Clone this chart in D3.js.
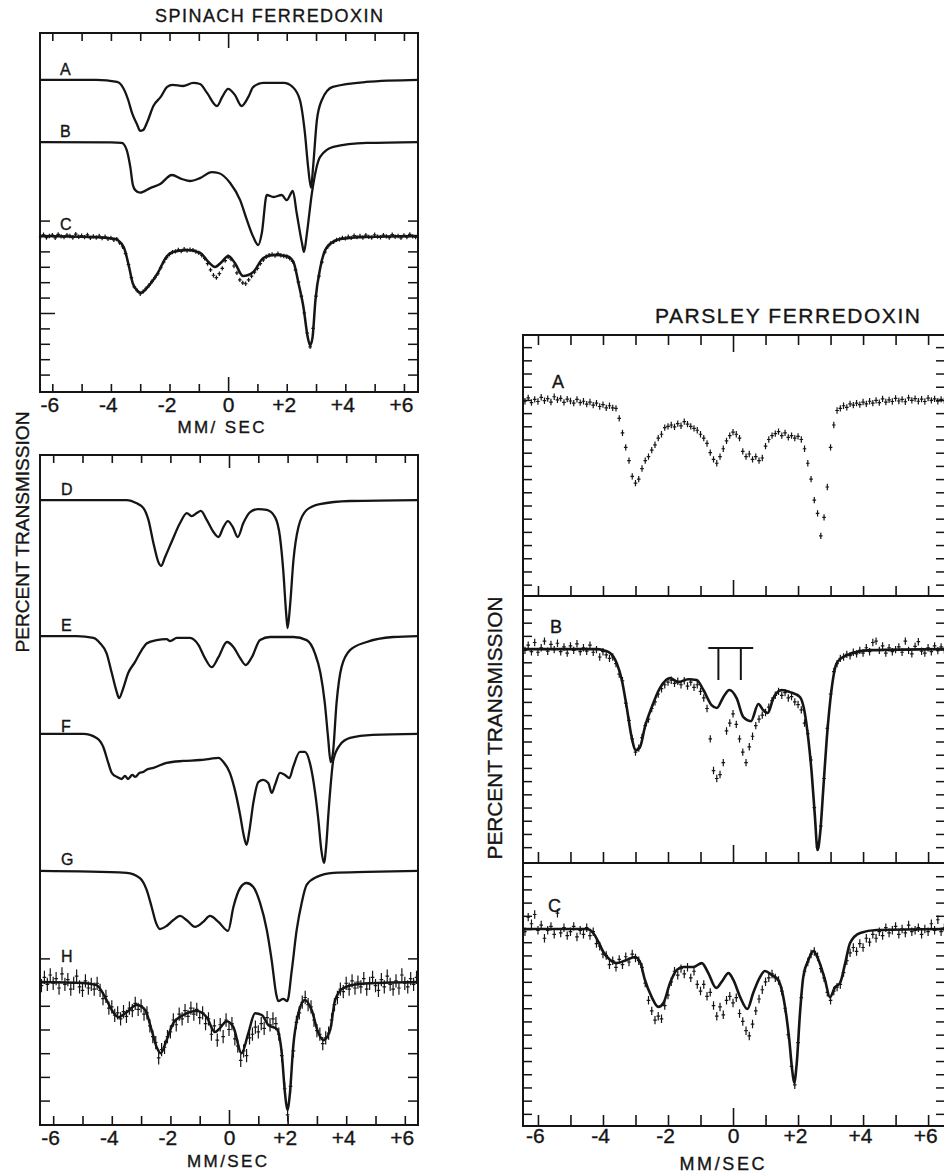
<!DOCTYPE html>
<html>
<head>
<meta charset="utf-8">
<script src="https://cdn.jsdelivr.net/npm/d3@7"></script>
<style>
  body { margin: 0; background: #fff; }
  svg text { font-family: "Liberation Sans", Arial, sans-serif; fill: #151515; stroke: #151515; stroke-width: 0.35; }
</style>
</head>
<body>
<svg id="fig"></svg>
<script>
// Mossbauer spectra of spinach and parsley ferredoxin.
// Values are absorption below the baseline, in percent (transmission = 100 - value).

// velocity channels (mm/sec) shared by all measured spectra
const velocity = [
  -6.4,-6.3,-6.2,-6.1,-6.0,-5.9,-5.8,-5.7,-5.6,-5.5,
  -5.4,-5.3,-5.2,-5.1,-5.0,-4.9,-4.8,-4.7,-4.6,-4.5,
  -4.4,-4.3,-4.2,-4.1,-4.0,-3.9,-3.8,-3.7,-3.6,-3.5,
  -3.4,-3.3,-3.2,-3.1,-3.0,-2.9,-2.8,-2.7,-2.6,-2.5,
  -2.4,-2.3,-2.2,-2.1,-2.0,-1.9,-1.8,-1.7,-1.6,-1.5,
  -1.4,-1.3,-1.2,-1.1,-1.0,-0.9,-0.8,-0.7,-0.6,-0.5,
  -0.4,-0.3,-0.2,-0.1,0.0,0.1,0.2,0.3,0.4,0.5,
  0.6,0.7,0.8,0.9,1.0,1.1,1.2,1.3,1.4,1.5,
  1.6,1.7,1.8,1.9,2.0,2.1,2.2,2.3,2.4,2.5,
  2.6,2.7,2.8,2.9,3.0,3.1,3.2,3.3,3.4,3.5,
  3.6,3.7,3.8,3.9,4.0,4.1,4.2,4.3,4.4,4.5,
  4.6,4.7,4.8,4.9,5.0,5.1,5.2,5.3,5.4,5.5,
  5.6,5.7,5.8,5.9,6.0,6.1,6.2,6.3,6.4,6.5
];

const velocityTicks = [-6,-5,-4,-3,-2,-1,0,1,2,3,4,5,6];
const velocityLabels = [-6,-4,-2,0,2,4,6];

// ---- spinach ferredoxin: computed spectra A, B and fit of C ----
const spinachA = [[-6.42,0],[-4.5,0],[-3.79,0.13],[-3.58,0.52],[-3.41,1.30],[-3.28,2.14],[-3.1,2.92],[-3.0,3.31],[-2.9,3.25],[-2.76,2.73],[-2.55,1.69],[-2.3,1.1],[-2.08,0.45],[-1.9,0.32],[-1.54,0.39],[-1.19,0.19],[-0.96,0.26],[-0.72,0.84],[-0.38,1.69],[-0.2,1.1],[0,0.58],[0.23,0.97],[0.46,1.69],[0.69,1.1],[0.86,0.45],[1.2,0.19],[1.9,0.19],[2.2,0.45],[2.45,1.30],[2.62,3.44],[2.73,5.65],[2.83,7.0],[2.9,5.65],[3.03,2.6],[3.2,1.3],[3.57,0.45],[4.7,0.13],[6.48,0]];
const spinachB = [[-6.42,0],[-4.0,0.02],[-3.63,0.05],[-3.46,0.52],[-3.34,1.6],[-3.25,2.79],[-3.17,3.12],[-3.0,3.29],[-2.66,2.99],[-2.32,2.73],[-1.92,2.14],[-1.58,2.4],[-1.3,2.53],[-0.96,2.34],[-0.56,1.95],[-0.33,2.01],[0.07,2.66],[0.41,3.77],[0.64,5.06],[0.86,6.17],[1.03,6.69],[1.15,5.91],[1.32,3.44],[1.55,3.57],[1.83,3.44],[2.0,3.77],[2.21,3.18],[2.34,4.61],[2.52,6.56],[2.59,7.14],[2.69,5.91],[2.86,3.31],[3.14,0.97],[3.59,0.32],[4.73,0.06],[6.48,0]];
const spinachCFit = [[-6.42,0],[-4.7,0.06],[-3.83,0.2],[-3.77,0.26],[-3.55,0.78],[-3.38,2.01],[-3.26,3.05],[-3.1,3.55],[-2.97,3.7],[-2.74,3.31],[-2.4,2.4],[-2.11,1.36],[-1.88,1.04],[-1.37,0.91],[-0.95,1.1],[-0.67,1.69],[-0.45,2.01],[-0.22,1.69],[0,1.3],[0.23,1.75],[0.51,2.6],[0.86,2.34],[1.2,1.43],[1.55,1.23],[2.0,1.3],[2.23,1.69],[2.4,3.05],[2.57,4.61],[2.72,6.6],[2.8,7.1],[2.88,6.6],[2.98,4.16],[3.15,2.01],[3.38,0.71],[3.83,0.2],[4.7,0.06],[6.48,0]];
const spinachC = [
  0.05,-0.08,0.10,0.00,-0.05,0.12,-0.10,0.03,0.08,-0.06,
  0.00,0.10,-0.12,0.05,-0.02,0.08,-0.07,0.12,0.02,0.10,
  0.00,0.14,0.05,0.18,0.12,0.25,0.20,0.45,0.70,1.15,
  1.85,2.70,3.30,3.55,3.75,3.60,3.40,3.20,2.95,2.70,
  2.45,2.05,1.70,1.40,1.20,1.05,1.00,0.90,0.98,0.85,
  0.95,0.88,0.92,1.02,1.10,1.25,1.45,1.80,2.20,2.55,
  2.70,2.45,2.10,1.60,1.35,1.50,1.95,2.40,2.85,3.05,
  3.10,2.85,2.60,2.35,2.10,1.80,1.55,1.35,1.25,1.20,
  1.28,1.15,1.25,1.30,1.35,1.45,1.65,2.20,3.00,3.90,
  5.00,6.30,7.20,6.00,3.90,2.60,1.70,1.05,0.70,0.48,
  0.38,0.25,0.22,0.12,0.15,0.05,0.12,-0.02,0.08,0.00,
  0.10,-0.05,0.06,0.11,-0.08,0.04,0.09,-0.06,0.02,0.10,
  -0.09,0.05,0.00,0.12,-0.04,0.07,-0.10,0.03,0.08,-0.02
];

// ---- spinach ferredoxin: components D-G and fit/data H ----
const spinachD = [[-6.45,0],[-3.49,0],[-3.15,0.14],[-2.92,0.34],[-2.75,0.84],[-2.58,1.81],[-2.41,2.62],[-2.32,2.78],[-2.18,2.4],[-1.96,1.77],[-1.67,0.97],[-1.44,0.55],[-1.27,0.68],[-1.1,0.55],[-0.96,0.46],[-0.76,0.84],[-0.53,1.35],[-0.36,1.56],[-0.19,1.14],[-0.04,0.89],[0.13,1.14],[0.3,1.56],[0.49,0.97],[0.72,0.51],[1.0,0.38],[1.29,0.42],[1.57,0.72],[1.74,1.56],[1.85,2.95],[1.95,4.77],[2.0,5.4],[2.08,4.51],[2.2,2.53],[2.37,1.14],[2.65,0.42],[3.1,0.17],[4.13,0.04],[6.45,0]];
const spinachE = [[-6.45,0],[-5.2,0],[-4.63,0.08],[-4.4,0.3],[-4.18,0.72],[-4.0,1.56],[-3.85,2.28],[-3.75,2.62],[-3.63,2.28],[-3.44,1.56],[-3.21,1.1],[-2.98,0.59],[-2.8,0.3],[-2.47,0.17],[-2.13,0.13],[-2.01,0.21],[-1.78,0.08],[-1.33,0.08],[-1.04,0.38],[-0.82,0.93],[-0.59,1.31],[-0.36,0.89],[-0.07,0.25],[0.15,0.46],[0.38,0.93],[0.57,1.22],[0.78,0.89],[1.06,0.17],[1.4,0.04],[2.2,0.04],[2.65,0.17],[2.93,0.72],[3.12,1.56],[3.27,2.83],[3.38,4.26],[3.47,5.32],[3.55,4.9],[3.67,2.83],[3.84,1.31],[4.13,0.59],[4.7,0.25],[5.6,0.04],[6.45,0]];
const spinachF = [[-6.45,0],[-4.97,0],[-4.52,0.17],[-4.29,0.55],[-4.12,1.22],[-4.0,1.64],[-3.83,1.81],[-3.66,1.9],[-3.55,1.77],[-3.45,1.9],[-3.3,1.73],[-3.2,1.81],[-3.05,1.64],[-2.92,1.6],[-2.8,1.5],[-2.58,1.43],[-2.13,1.22],[-1.56,1.14],[-0.99,1.1],[-0.65,1.05],[-0.36,1.01],[-0.19,1.18],[0.03,1.64],[0.2,2.36],[0.38,3.42],[0.5,4.26],[0.6,4.68],[0.7,4.05],[0.83,2.91],[1.0,2.03],[1.17,1.94],[1.34,2.07],[1.46,2.49],[1.57,2.15],[1.74,1.64],[1.91,1.73],[2.06,1.86],[2.19,1.39],[2.42,0.76],[2.59,0.76],[2.76,1.22],[2.94,2.49],[3.05,3.63],[3.15,4.89],[3.24,5.44],[3.32,4.68],[3.39,3.42],[3.47,2.15],[3.56,1.1],[3.79,0.46],[4.13,0.17],[4.9,0.04],[6.45,0]];
const spinachG = [[-6.45,0],[-3.49,0.08],[-3.04,0.3],[-2.81,0.8],[-2.64,1.52],[-2.49,2.19],[-2.36,2.45],[-2.13,2.32],[-1.9,2.07],[-1.67,1.9],[-1.45,2.07],[-1.16,2.36],[-0.88,2.15],[-0.65,1.9],[-0.36,2.15],[-0.03,2.53],[0.15,1.52],[0.38,0.72],[0.6,0.51],[0.83,0.68],[1.06,1.35],[1.29,2.49],[1.46,3.8],[1.61,5.19],[1.68,5.49],[1.85,5.4],[1.99,5.49],[2.14,4.22],[2.31,2.49],[2.48,1.35],[2.65,0.59],[3.0,0.25],[3.56,0.08],[4.7,0.04],[6.45,0]];
const spinachHFit = [[-6.45,0],[-4.97,0.04],[-4.52,0.13],[-4.23,0.63],[-4.0,1.18],[-3.77,1.48],[-3.49,1.27],[-3.15,0.97],[-2.86,1.18],[-2.64,2.03],[-2.47,2.74],[-2.33,3.0],[-2.13,2.45],[-1.9,1.73],[-1.56,1.39],[-1.1,1.22],[-0.76,1.48],[-0.48,2.11],[-0.31,1.94],[-0.08,1.65],[0.15,1.9],[0.43,3.0],[0.66,2.15],[0.89,1.31],[1.12,1.39],[1.34,1.81],[1.63,1.98],[1.8,3.0],[1.91,4.68],[1.99,5.4],[2.08,4.68],[2.19,2.74],[2.37,1.31],[2.59,0.76],[2.82,1.18],[3.05,2.15],[3.22,2.45],[3.45,2.03],[3.62,0.76],[3.9,0.25],[4.47,0.08],[6.45,0]];
const spinachH = [
  0.15,-0.20,0.10,-0.30,0.05,-0.15,0.25,-0.35,0.10,-0.10,
  0.30,0.05,-0.25,0.20,0.35,-0.05,0.25,0.10,0.30,0.05,
  0.35,0.70,0.60,1.10,1.05,1.40,1.30,1.55,1.25,1.45,
  1.10,1.20,0.90,1.15,1.00,1.35,1.30,1.85,2.30,2.55,
  3.20,2.85,2.75,2.30,2.10,1.60,1.80,1.35,1.55,1.20,
  1.45,1.10,1.35,1.15,1.50,1.30,1.75,1.55,2.20,1.85,
  2.45,1.80,2.30,1.60,2.00,1.75,2.40,2.70,3.30,2.90,
  3.10,2.35,2.20,1.90,2.10,1.75,1.95,1.50,1.80,1.55,
  1.75,2.20,3.10,4.50,5.60,4.40,2.90,1.70,1.30,0.85,
  0.65,0.95,1.05,1.60,2.05,2.20,2.60,2.35,2.15,1.60,
  0.95,0.65,0.30,0.40,0.05,0.30,-0.05,0.25,0.00,0.20,
  -0.15,0.30,0.05,-0.20,0.15,0.35,-0.10,0.20,-0.25,0.10,
  0.30,-0.05,0.25,-0.30,0.05,0.20,-0.15,0.10,-0.20,0.05
];

// ---- parsley ferredoxin: data A, B, C with fits for B and C ----
const parsleyA = [
  0.05,-0.08,0.10,-0.02,0.06,-0.10,0.03,-0.05,0.08,-0.12,
  0.00,-0.06,0.09,-0.03,0.04,0.12,-0.02,0.10,0.05,0.16,
  0.08,0.20,0.12,0.25,0.18,0.30,0.22,0.30,0.32,0.70,
  1.25,1.80,2.30,2.90,3.15,3.00,2.60,2.30,2.15,1.90,
  1.70,1.45,1.30,1.05,1.00,0.95,1.02,0.90,0.98,0.82,
  0.92,1.00,1.08,1.15,1.30,1.45,1.65,2.00,2.25,2.40,
  2.15,1.85,1.55,1.35,1.22,1.30,1.45,1.95,2.15,2.05,
  2.25,2.15,2.30,2.20,1.75,1.50,1.35,1.28,1.20,1.35,
  1.25,1.42,1.35,1.45,1.38,1.50,1.85,2.40,3.00,3.80,
  4.30,5.15,4.45,3.30,1.80,0.95,0.40,0.32,0.22,0.28,
  0.15,0.20,0.12,0.18,0.08,0.15,0.05,0.12,0.02,0.10,
  -0.04,0.08,0.00,0.06,-0.06,0.04,-0.02,0.07,-0.08,0.02,
  -0.05,0.05,-0.03,0.06,-0.07,0.02,-0.04,0.05,-0.02,0.03
];
const parsleyBFit = [[-6.46,0],[-4.19,0],[-3.99,0.04],[-3.78,0.15],[-3.58,0.53],[-3.42,1.17],[-3.27,2.2],[-3.12,3.33],[-2.99,3.83],[-2.86,3.71],[-2.71,2.95],[-2.5,2.2],[-2.25,1.48],[-1.94,1.1],[-1.68,1.25],[-1.38,1.14],[-1.12,1.17],[-0.91,1.55],[-0.66,2.12],[-0.5,2.23],[-0.3,1.82],[-0.11,1.55],[0.11,1.86],[0.32,2.58],[0.55,2.73],[0.78,2.08],[0.93,2.31],[1.07,2.42],[1.24,1.86],[1.5,1.55],[1.75,1.63],[2.06,1.82],[2.19,2.31],[2.32,3.45],[2.42,4.7],[2.52,6.36],[2.6,7.61],[2.68,6.97],[2.78,5.23],[2.88,3.45],[3.04,1.44],[3.19,0.53],[3.5,0.23],[4.22,0.04],[6.52,0]];
const parsleyB = [
  0.05,-0.15,0.10,-0.25,0.12,-0.05,-0.30,0.08,-0.18,0.02,
  -0.22,0.10,-0.08,0.15,-0.12,0.05,-0.20,0.10,-0.05,0.08,
  -0.15,0.12,0.02,0.30,0.10,0.22,0.35,0.30,0.55,0.95,
  1.20,2.05,2.70,3.40,3.90,3.75,3.35,2.90,2.65,2.25,
  2.00,1.70,1.50,1.35,1.25,1.18,1.30,1.22,1.35,1.20,
  1.40,1.25,1.45,1.35,1.60,1.85,2.25,3.40,4.60,4.90,
  4.75,4.30,3.10,2.80,2.45,2.85,3.40,3.90,4.30,3.70,
  3.30,2.90,2.65,2.50,2.40,2.20,1.95,1.75,1.60,1.75,
  1.65,1.85,1.80,2.00,2.10,2.30,2.80,3.20,4.20,6.00,
  7.50,6.70,4.90,3.00,1.70,0.85,0.55,0.35,0.30,0.20,
  0.25,0.12,0.18,0.05,0.15,-0.05,0.10,-0.25,-0.30,0.05,
  -0.12,0.15,-0.05,0.10,0.02,-0.08,0.12,-0.30,0.05,0.18,
  -0.10,-0.28,0.08,0.15,-0.05,0.10,-0.12,0.06,-0.08,0.04
];
const parsleyCFit = [[-6.46,0],[-4.5,0],[-4.3,0.15],[-4.14,0.49],[-3.99,0.87],[-3.78,1.17],[-3.58,1.29],[-3.27,1.17],[-3.02,1.06],[-2.86,1.25],[-2.71,1.93],[-2.5,2.58],[-2.3,2.95],[-2.14,2.8],[-1.94,2.05],[-1.73,1.55],[-1.53,1.44],[-1.22,1.44],[-0.96,1.29],[-0.76,1.67],[-0.52,2.23],[-0.35,2.0],[-0.14,1.67],[0.01,1.93],[0.22,2.58],[0.44,3.03],[0.62,2.42],[0.83,1.82],[0.98,1.59],[1.19,1.74],[1.39,1.93],[1.6,2.95],[1.73,4.2],[1.81,5.23],[1.88,5.83],[1.96,5.08],[2.06,3.18],[2.16,1.82],[2.32,1.17],[2.47,0.83],[2.63,1.17],[2.83,1.93],[2.98,2.58],[3.14,2.2],[3.29,2.05],[3.45,1.29],[3.6,0.53],[3.91,0.15],[4.42,0.04],[6.52,0]];
const parsleyC = [
  0.10,-0.45,-0.20,-0.55,0.05,-0.15,0.35,0.05,-0.10,0.20,
  -0.60,0.15,-0.05,0.25,0.10,-0.10,0.30,0.05,0.20,-0.05,
  0.25,0.10,0.55,0.65,0.95,1.00,1.35,1.20,1.45,1.15,
  1.35,1.05,1.25,0.95,1.10,1.20,1.45,2.05,2.70,3.10,
  3.45,3.30,3.40,2.90,2.50,2.00,1.60,1.75,1.50,1.70,
  1.45,1.85,1.60,2.10,2.35,2.10,2.55,2.40,2.90,3.30,
  2.95,3.25,2.70,2.55,2.80,2.60,3.20,3.50,3.85,4.05,
  3.60,3.10,2.65,2.30,2.00,1.85,1.70,1.85,1.95,2.35,
  3.00,4.00,5.20,5.90,4.30,2.60,1.60,1.25,0.95,0.85,
  1.05,1.50,1.85,2.40,2.70,2.35,2.20,2.10,1.65,1.20,
  0.90,0.70,0.85,0.55,0.70,0.35,0.50,0.20,0.35,0.10,
  0.25,-0.05,0.15,0.05,-0.10,0.20,0.00,0.15,-0.15,0.10,
  0.05,-0.05,0.20,0.00,0.10,-0.20,0.05,-0.35,0.10,-0.05
];

// bracket over the two extra lines in parsley B (velocity, absorption)
const markerStems = [-0.45, 0.24];
const markerBar = [-0.76, 0.62];
const markerLevels = [-0.04, 1.17];

// ---------------------------------------------------------------
const ink = "#151515";
const svg = d3.select("#fig").attr("width", 944).attr("height", 1173);

// panels: x in mm/sec, y in percent absorption counted from the panel top
const xSpinach = d3.scaleLinear().domain([-6.42, 6.48]).range([40, 418]);
const ySpinach = d3.scaleLinear().domain([0, 23.31]).range([33, 392]);
const xLower = d3.scaleLinear().domain([-6.45, 6.45]).range([40, 418]);
const yLower = d3.scaleLinear().domain([0, 28.27]).range([455, 1125]);
const xParsley = d3.scaleLinear().domain([-6.46, 6.52]).range([523, 945]);
const yParsA = d3.scaleLinear().domain([0, 9.89]).range([335, 596]);
const yParsB = d3.scaleLinear().domain([0, 10.11]).range([596, 863]);
const yParsC = d3.scaleLinear().domain([0, 9.96]).range([863, 1126]);

// where each spectrum's baseline sits in its panel
const offset = {sA: 3.05, sB: 7.08, sC: 13.18, D: 1.90, E: 7.64, F: 11.77, G: 17.55, H: 22.24, pA: 2.46, pB: 2.01, pC: 2.5};

function frame(x, y) {
  const [x0, x1] = x.range(), [y0, y1] = y.range();
  svg.append("rect")
    .attr("x", x0).attr("y", y0)
    .attr("width", x1 - x0).attr("height", y1 - y0)
    .attr("fill", "none").attr("stroke", ink).attr("stroke-width", 2);
}

function xTicks(x, yPix, orient, len, zeroLen) {
  const axis = (orient === "top" ? d3.axisTop(x) : d3.axisBottom(x))
    .tickValues(velocityTicks).tickSize(-len).tickFormat("");
  const g = svg.append("g").attr("transform", `translate(0,${yPix})`).call(axis);
  g.select(".domain").remove();
  g.selectAll(".tick line").attr("stroke", ink).attr("stroke-width", 1.6)
    .filter(d => d === 0).attr("y2", orient === "top" ? zeroLen : -zeroLen);
}

function yTicks(y, xPix, orient, values, len, longValue, longLen) {
  const axis = (orient === "left" ? d3.axisLeft(y) : d3.axisRight(y))
    .tickValues(values).tickSize(-len).tickFormat("");
  const g = svg.append("g").attr("transform", `translate(${xPix},0)`).call(axis);
  g.select(".domain").remove();
  g.selectAll(".tick line").attr("stroke", ink).attr("stroke-width", 1.5)
    .filter(d => longValue !== undefined && Math.abs(d - longValue) < 1e-6)
    .attr("x2", orient === "left" ? longLen : -longLen);
}

function xLabels(x, yPix, pad) {
  const fmt = d => d > 0 ? "+" + d : d < 0 ? "-" + Math.abs(d) : "0";
  const g = svg.append("g").attr("transform", `translate(0,${yPix})`)
    .call(d3.axisBottom(x).tickValues(velocityLabels).tickSize(0).tickPadding(pad).tickFormat(fmt));
  g.select(".domain").remove();
  g.attr("font-family", null).attr("font-size", null);
  g.selectAll("text").attr("font-size", 21).attr("fill", ink)
    .attr("dx", d => d === 0 ? 0 : -3);
}

function curve(x, y, off, pts, width) {
  const line = d3.line()
    .x(d => x(d[0]))
    .y(d => y(off + d[1]))
    .curve(d3.curveMonotoneX);
  svg.append("path").datum(pts).attr("d", line)
    .attr("fill", "none").attr("stroke", ink)
    .attr("stroke-width", width).attr("stroke-linejoin", "round");
}

function points(x, y, off, vals, err) {
  const [lo, hi] = x.domain();
  const pts = vals.map((a, i) => [velocity[i], a]).filter(d => d[0] >= lo && d[0] <= hi);
  svg.append("g").selectAll("path").data(pts).join("path")
    .attr("d", d => {
      const px = x(d[0]), py = y(off + d[1]);
      const top = y(off + d[1] - err), bot = y(off + d[1] + err);
      return `M${px},${top}V${bot}M${px - 1.8},${py}H${px + 1.8}`;
    })
    .attr("stroke", ink).attr("stroke-width", 1.2).attr("fill", "none");
}

function label(txt, x, y, size, opts = {}) {
  const t = svg.append("text").attr("x", x).attr("y", y)
    .attr("font-size", size).text(txt);
  if (opts.anchor) t.attr("text-anchor", opts.anchor);
  if (opts.len) t.attr("textLength", opts.len).attr("lengthAdjust", opts.adjust || "spacing");
  return t;
}

function vlabel(txt, cx, cy, size, len) {
  svg.append("text")
    .attr("transform", `translate(${cx},${cy}) rotate(-90)`)
    .attr("text-anchor", "middle").attr("dy", "0.36em")
    .attr("font-size", size)
    .attr("textLength", len).attr("lengthAdjust", "spacingAndGlyphs")
    .text(txt);
}

// ---------------- spinach, upper panel ----------------
frame(xSpinach, ySpinach);
xTicks(xSpinach, 33, "top", 8, 15);
xTicks(xSpinach, 392, "bottom", 8, 15);
const sTicks = d3.range(-1, 10).map(k => offset.sC + k);
yTicks(ySpinach, 40, "left", sTicks, 10, offset.sC + 5, 15);
yTicks(ySpinach, 418, "right", sTicks, 10);
xLabels(xSpinach, 392, 5);

curve(xSpinach, ySpinach, offset.sA, spinachA, 2.3);
curve(xSpinach, ySpinach, offset.sB, spinachB, 2.3);
points(xSpinach, ySpinach, offset.sC, spinachC, 0.14);
curve(xSpinach, ySpinach, offset.sC, spinachCFit, 2.5);

label("A", 60, 75, 16);
label("B", 60, 137, 16);
label("C", 60, 230, 16);
label("SPINACH  FERREDOXIN", 155, 22, 18, {len: 228});
label("MM/ SEC", 221, 433, 17, {anchor: "middle", len: 87});

// ---------------- spinach, lower panel ----------------
frame(xLower, yLower);
xTicks(xLower, 455, "top", 8, 13);
xTicks(xLower, 1125, "bottom", 9, 15);
const lTicks = d3.range(-1, 6).map(k => offset.H + k);
yTicks(yLower, 40, "left", lTicks, 10);
yTicks(yLower, 418, "right", lTicks, 10);
xLabels(xLower, 1125, 5);

curve(xLower, yLower, offset.D, spinachD, 2.3);
curve(xLower, yLower, offset.E, spinachE, 2.3);
curve(xLower, yLower, offset.F, spinachF, 2.3);
curve(xLower, yLower, offset.G, spinachG, 2.3);
points(xLower, yLower, offset.H, spinachH, 0.28);
curve(xLower, yLower, offset.H, spinachHFit, 2.5);

label("D", 61, 495, 16);
label("E", 61, 631, 16);
label("F", 61, 732, 16);
label("G", 61, 865, 16);
label("H", 61, 962, 16);
label("MM/SEC", 227, 1167, 17, {anchor: "middle", len: 80});
vlabel("PERCENT  TRANSMISSION", 22, 532, 19, 241);

// ---------------- parsley ----------------
[[yParsA, offset.pA], [yParsB, offset.pB], [yParsC, offset.pC]].forEach(([y, off]) => {
  frame(xParsley, y);
  const ticks = d3.range(-8, 18).map(k => off + 0.5 * k)
    .filter(v => v > 0.3 && v < y.domain()[1] - 0.3);
  yTicks(y, 523, "left", ticks, 9);
  yTicks(y, 945, "right", ticks, 9);
});
xTicks(xParsley, 335, "top", 10, 17);
xTicks(xParsley, 596, "bottom", 10, 16);
xTicks(xParsley, 863, "bottom", 11, 18);
xTicks(xParsley, 1126, "bottom", 11, 18);
xLabels(xParsley, 1126, 2);

points(xParsley, yParsA, offset.pA, parsleyA, 0.12);
points(xParsley, yParsB, offset.pB, parsleyB, 0.14);
curve(xParsley, yParsB, offset.pB, parsleyBFit, 2.6);
points(xParsley, yParsC, offset.pC, parsleyC, 0.16);
curve(xParsley, yParsC, offset.pC, parsleyCFit, 2.6);

// bracket above the central region of B
const mk = svg.append("g").attr("stroke", ink).attr("stroke-width", 2).attr("fill", "none");
mk.append("line")
  .attr("x1", xParsley(markerBar[0])).attr("x2", xParsley(markerBar[1]))
  .attr("y1", yParsB(offset.pB + markerLevels[0])).attr("y2", yParsB(offset.pB + markerLevels[0]));
markerStems.forEach(v => {
  mk.append("line")
    .attr("x1", xParsley(v)).attr("x2", xParsley(v))
    .attr("y1", yParsB(offset.pB + markerLevels[0])).attr("y2", yParsB(offset.pB + markerLevels[1]));
});

label("A", 552, 388, 18);
label("B", 550, 633, 18);
label("C", 548, 912, 18);
label("PARSLEY  FERREDOXIN", 655, 323, 21, {len: 265});
label("MM/SEC", 722, 1170, 18, {anchor: "middle", len: 85});
vlabel("PERCENT  TRANSMISSION", 495, 728, 20, 263);
</script>
</body>
</html>
